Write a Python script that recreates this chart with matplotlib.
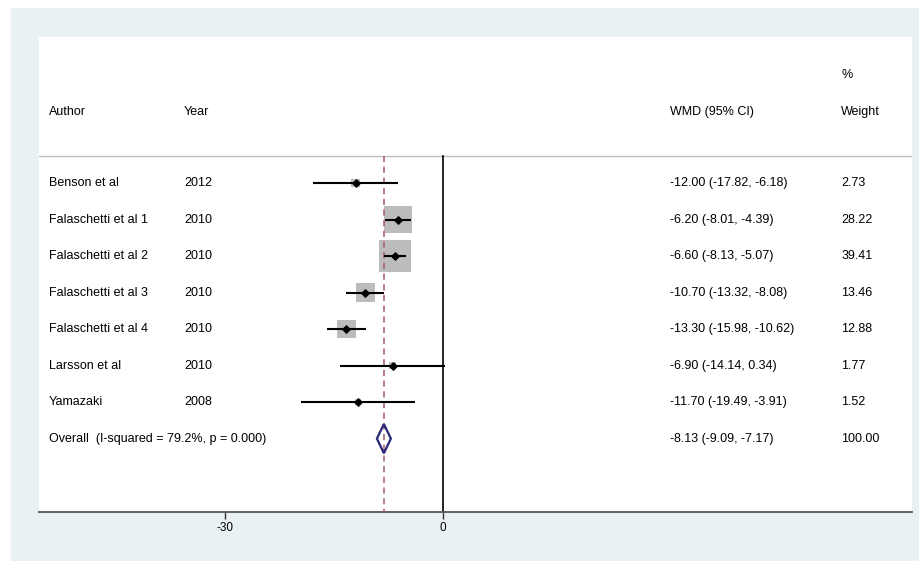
import matplotlib.pyplot as plt
from matplotlib.patches import Rectangle, Polygon
import numpy as np

plt.rcParams['font.family'] = ['Liberation Sans', 'DejaVu Sans']

# Study data
authors = ['Benson et al', 'Falaschetti et al 1', 'Falaschetti et al 2', 'Falaschetti et al 3',
           'Falaschetti et al 4', 'Larsson et al', 'Yamazaki']
years = ['2012', '2010', '2010', '2010', '2010', '2010', '2008']
wmd = [-12.00, -6.20, -6.60, -10.70, -13.30, -6.90, -11.70]
ci_lo = [-17.82, -8.01, -8.13, -13.32, -15.98, -14.14, -19.49]
ci_hi = [-6.18, -4.39, -5.07, -8.08, -10.62, 0.34, -3.91]
weights = [2.73, 28.22, 39.41, 13.46, 12.88, 1.77, 1.52]

overall_label = 'Overall  (I-squared = 79.2%, p = 0.000)'
overall = -8.13
overall_lo = -9.09
overall_hi = -7.17
overall_w = 100.00

xticks = [-30, 0]

fig = plt.figure(figsize=(9.2, 5.61), dpi=100, facecolor='white')
# light panel behind the plot
fig.patches.append(Rectangle((11 / 920, 0), 1, 1 - 8 / 561, transform=fig.transFigure,
                             color='#eaf1f3', zorder=0))

ax = fig.add_axes([39 / 920, 1 - 512 / 561, 873 / 920, 475 / 561])
ax.set_facecolor('white')
ax.set_zorder(1)

ax.set_xlim((39 - 443) / 7.27, (912 - 443) / 7.27)
ax.set_ylim(9.01, -4.0)

n = len(authors)
rows = np.arange(n)
line_top = -0.74

# header rule
ax.axhline(line_top, color='#bdbdbd', lw=1.0)

# reference lines
ax.plot([0, 0], [line_top, 9.01], color='black', lw=1.2, zorder=2)
ax.plot([overall, overall], [line_top, 9.01], color='#a4586a', lw=1.1, ls=(0, (4, 3)), zorder=4)

# weight boxes
sizes = [(5.2 * np.sqrt(w) * 0.72) ** 2 for w in weights]
ax.scatter(wmd, rows, s=sizes, marker='s', color='#bcbcbc', zorder=3, linewidths=0)
ax.hlines(rows, ci_lo, ci_hi, color='black', lw=1.5, zorder=5)
ax.scatter(wmd, rows, s=14, marker='D', color='black', zorder=6)

# overall diamond
h = 0.4
diamond = Polygon([(overall_lo, n), (overall, n - h), (overall_hi, n), (overall, n + h)],
                  closed=True, fill=False, edgecolor='#27277a', lw=1.6, zorder=6)
ax.add_patch(diamond)

# text columns
tr = ax.get_yaxis_transform()
fs = 9
ax.text(0.0115, -1.95, 'Author', transform=tr, fontsize=fs, va='center')
ax.text(0.166, -1.95, 'Year', transform=tr, fontsize=fs, va='center')
ax.text(0.723, -1.95, 'WMD (95% CI)', transform=tr, fontsize=fs, va='center')
ax.text(0.919, -2.96, '%', transform=tr, fontsize=fs, va='center')
ax.text(0.919, -1.95, 'Weight', transform=tr, fontsize=fs, va='center')

for i in range(n):
    ax.text(0.0115, i, authors[i], transform=tr, fontsize=fs, va='center')
    ax.text(0.166, i, years[i], transform=tr, fontsize=fs, va='center')
    ax.text(0.723, i, '%.2f (%.2f, %.2f)' % (wmd[i], ci_lo[i], ci_hi[i]), transform=tr,
            fontsize=fs, va='center')
    ax.text(0.919, i, '%.2f' % weights[i], transform=tr, fontsize=fs, va='center')

ax.text(0.0115, n, overall_label, transform=tr, fontsize=fs, va='center')
ax.text(0.723, n, '%.2f (%.2f, %.2f)' % (overall, overall_lo, overall_hi), transform=tr,
        fontsize=fs, va='center')
ax.text(0.919, n, '%.2f' % overall_w, transform=tr, fontsize=fs, va='center')

for s in ['top', 'left', 'right']:
    ax.spines[s].set_visible(False)
ax.spines['bottom'].set_color('#555555')
ax.spines['bottom'].set_linewidth(1.3)
ax.set_yticks([])
ax.set_xticks(xticks)
ax.set_xticklabels([str(t) for t in xticks])
ax.tick_params(axis='x', length=5, width=1, color='#333333', labelsize=8.5, pad=2)

fig.savefig('out.png', dpi=100, facecolor=fig.get_facecolor())
